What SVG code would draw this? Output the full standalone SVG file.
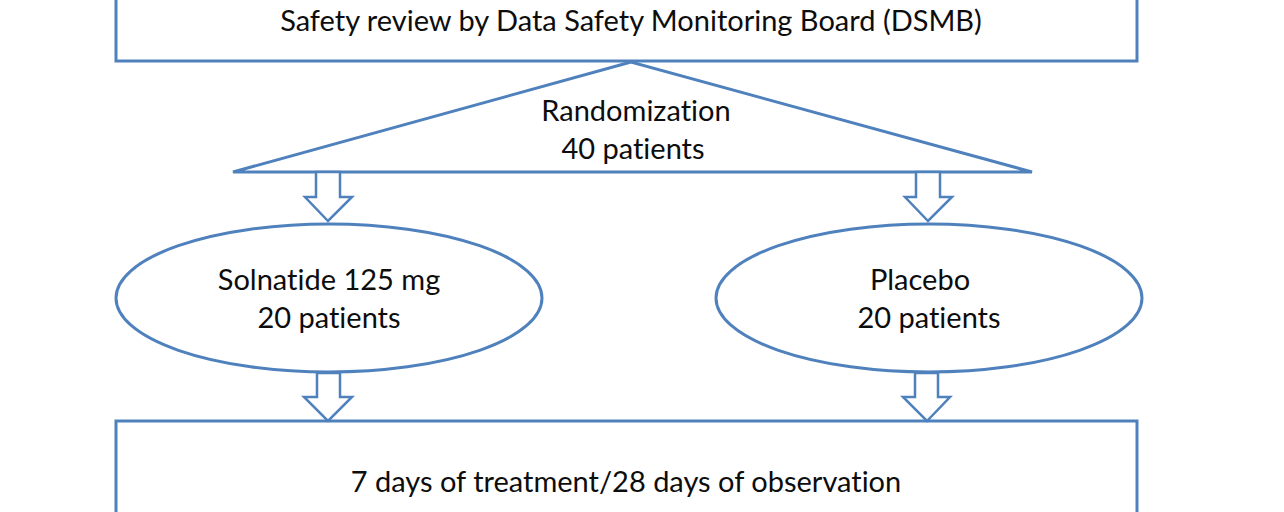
<svg xmlns="http://www.w3.org/2000/svg" width="1284" height="512" viewBox="0 0 1284 512">
<style>
.s{fill:#fff;stroke:#4f81bd;stroke-width:3}
.a{fill:#fff;stroke:#4f81bd;stroke-width:2.5;stroke-linejoin:miter}
text{font-family:Lato,"Liberation Sans",sans-serif;font-size:29px;fill:#0d0d0d;text-anchor:middle;font-variant-ligatures:none}
</style>
<rect width="1284" height="512" fill="#fff"/>
<g id="dsmb"><rect class="s" x="116" y="-10" width="1021" height="71"/><text x="631" y="31">Safety review by Data Safety Monitoring Board (DSMB)</text></g>
<g id="randomization"><polygon class="s" points="631,62 233,172 1032,172"/><text x="636" y="121">Randomization</text><text x="633" y="159">40 patients</text></g>
<g id="solnatide"><ellipse class="s" cx="329" cy="298" rx="213" ry="74"/><text x="329" y="290">Solnatide 125 mg</text><text x="329" y="328">20 patients</text></g>
<g id="placebo"><ellipse class="s" cx="929" cy="298" rx="213" ry="74"/><text x="920" y="290">Placebo</text><text x="929" y="328">20 patients</text></g>
<g id="treatment"><rect class="s" x="116" y="421" width="1021" height="110"/><text x="626" y="492">7 days of treatment/28 days of observation</text></g>
<g id="connectors">
<polygon class="a" points="316,172 340,172 340,197 352,197 328,221 305,197 316,197"/>
<polygon class="a" points="916,172 940,172 940,197 952,197 928,221 905,197 916,197"/>
<polygon class="a" points="317,373 340,373 340,397 352,397 328,421 304,397 317,397"/>
<polygon class="a" points="915,373 938,373 938,397 950,397 927,421 903,397 915,397"/>
</g>
</svg>
